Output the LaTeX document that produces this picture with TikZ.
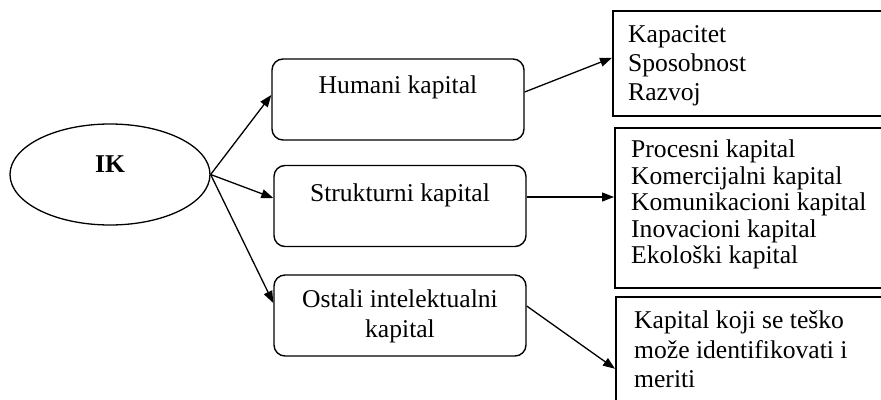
\documentclass[tikz,border=0pt]{standalone}
\usepackage{fontspec}
\setmainfont{Liberation Serif}
\usetikzlibrary{arrows.meta,shapes.geometric}
\begin{document}
\begin{tikzpicture}[x=1pt,y=-1pt,
  txt/.style={inner sep=0pt,font=\fontsize{25.6}{28}\selectfont},
  rbox/.style={draw,line width=1.4pt,rounded corners=11pt,minimum width=252pt,minimum height=81pt,inner sep=0pt},
  sbox/.style={draw,line width=1.5pt,anchor=north west,minimum width=300pt,inner sep=0pt},
  arr/.style={line width=1.3pt,-{Triangle[length=12pt,width=9pt]}}]
\useasboundingbox (0,0) rectangle (881,399);
\clip (0,0) rectangle (881,399);
% left ellipse
\node[draw,line width=1.3pt,ellipse,minimum width=200pt,minimum height=101pt,inner sep=0pt] (ik) at (110,174.5) {};
\node[txt,anchor=base] (ikt) at (110,172) {\textbf{IK}};
% middle boxes
\node[rbox] (hk) at (398,99.5) {};
\node[txt,anchor=base] (hkt) at (398,93) {Humani kapital};
\node[rbox] (sk) at (400,206) {};
\node[txt,anchor=base] (skt) at (400,201) {Strukturni kapital};
\node[rbox] (ok) at (400,315.5) {};
\node[txt,anchor=base] (okt1) at (400,307) {Ostali intelektualni};
\node[txt,anchor=base] (okt2) at (400,337) {kapital};
% right boxes
\node[sbox,minimum height=105pt] (b1) at (612,10) {};
\node[txt,anchor=base west] (b1a) at (628,42) {Kapacitet};
\node[txt,anchor=base west] (b1b) at (628,71) {Sposobnost};
\node[txt,anchor=base west] (b1c) at (628,100) {Razvoj};
\node[sbox,minimum height=160pt] (b2) at (614,127) {};
\node[txt,anchor=base west] (b2a) at (631,157) {Procesni kapital};
\node[txt,anchor=base west] (b2b) at (631,184) {Komercijalni kapital};
\node[txt,anchor=base west] (b2c) at (631,210) {Komunikacioni kapital};
\node[txt,anchor=base west] (b2d) at (631,237) {Inovacioni kapital};
\node[txt,anchor=base west] (b2e) at (631,263) {Ekološki kapital};
\node[sbox,minimum height=130pt] (b3) at (615,296) {};
\node[txt,anchor=base west] (b3a) at (634,328) {Kapital koji se teško};
\node[txt,anchor=base west] (b3b) at (634,358) {može identifikovati i};
\node[txt,anchor=base west] (b3c) at (634,387) {meriti};
% connectors
\draw[arr] (ik.east) -- ([yshift=4.5pt]hk.west);
\draw[arr] (ik.east) -- ([yshift=8pt]sk.west);
\draw[arr] (ik.east) -- ([yshift=12.5pt]ok.west);
\draw[arr] ([yshift=7.5pt]hk.east) -- ([yshift=5.5pt]b1.west);
\draw[arr] ([yshift=9pt]sk.east) -- ([yshift=9pt]sk.east -| b2.west);
\draw[arr] ([yshift=9.5pt]ok.east) -- ([yshift=-7pt]b3.west);
\end{tikzpicture}
\end{document}
